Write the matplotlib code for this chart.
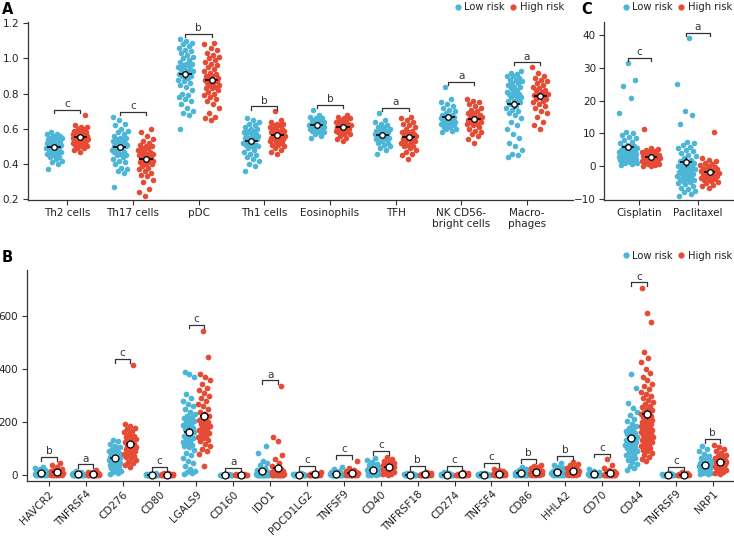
import numpy as np
import matplotlib
matplotlib.use("Agg")
import matplotlib.pyplot as plt
from matplotlib.lines import Line2D

plt.rcParams['font.family'] = ['DejaVu Sans']

BLUE = '#4DB6D6'
RED = '#E64B35'
TXT = '#222222'

# ---------------- Panel A data ----------------
a_categories = ['Th2 cells', 'Th17 cells', 'pDC', 'Th1 cells', 'Eosinophils', 'TFH',
                'NK CD56-\nbright cells', 'Macro-\nphages']
a_letters = ['c', 'c', 'b', 'b', 'b', 'a', 'a', 'a']

th2_low = [0.37,0.40,0.41,0.42,0.43,0.44,0.44,0.45,0.46,0.46,0.47,0.47,0.48,0.48,0.48,0.49,0.49,0.49,0.50,0.50,0.50,0.50,0.51,0.51,0.51,0.51,0.52,0.52,0.52,0.52,0.53,0.53,0.53,0.53,0.54,0.54,0.54,0.55,0.55,0.55,0.56,0.56,0.57,0.57,0.58]
th2_high = [0.47,0.48,0.49,0.49,0.50,0.50,0.51,0.51,0.52,0.52,0.52,0.53,0.53,0.53,0.54,0.54,0.54,0.54,0.55,0.55,0.55,0.55,0.55,0.56,0.56,0.56,0.56,0.57,0.57,0.57,0.57,0.58,0.58,0.58,0.59,0.59,0.60,0.60,0.61,0.61,0.62,0.68]
th17_low = [0.27,0.35,0.36,0.37,0.38,0.40,0.41,0.42,0.43,0.44,0.45,0.45,0.46,0.47,0.47,0.48,0.48,0.49,0.49,0.50,0.50,0.50,0.51,0.51,0.51,0.52,0.52,0.52,0.53,0.53,0.54,0.54,0.55,0.55,0.56,0.57,0.58,0.59,0.60,0.62,0.63,0.65,0.67]
th17_high = [0.22,0.24,0.26,0.30,0.31,0.33,0.34,0.35,0.36,0.37,0.38,0.39,0.40,0.40,0.41,0.41,0.42,0.42,0.43,0.43,0.44,0.44,0.45,0.45,0.45,0.46,0.46,0.47,0.47,0.48,0.48,0.49,0.49,0.50,0.50,0.51,0.52,0.53,0.54,0.56,0.58,0.60]
pdc_low = [0.60,0.68,0.69,0.70,0.72,0.74,0.76,0.77,0.78,0.79,0.80,0.82,0.84,0.85,0.86,0.87,0.88,0.89,0.90,0.90,0.91,0.91,0.92,0.92,0.93,0.93,0.94,0.94,0.95,0.95,0.96,0.96,0.97,0.97,0.98,0.99,1.00,1.01,1.02,1.03,1.04,1.05,1.06,1.07,1.08,1.09,1.10,1.11]
pdc_high = [0.65,0.66,0.67,0.69,0.72,0.74,0.76,0.77,0.78,0.79,0.80,0.81,0.82,0.83,0.83,0.84,0.85,0.85,0.86,0.86,0.87,0.87,0.88,0.88,0.89,0.89,0.90,0.90,0.91,0.92,0.93,0.94,0.95,0.96,0.97,0.98,0.99,1.00,1.01,1.02,1.03,1.05,1.06,1.08,1.09]
th1_low = [0.36,0.39,0.40,0.42,0.43,0.44,0.45,0.46,0.47,0.48,0.49,0.50,0.50,0.51,0.51,0.52,0.52,0.53,0.53,0.54,0.54,0.55,0.55,0.55,0.56,0.56,0.57,0.57,0.58,0.58,0.59,0.59,0.60,0.60,0.61,0.62,0.63,0.64,0.65,0.66]
th1_high = [0.46,0.47,0.48,0.49,0.50,0.51,0.51,0.52,0.52,0.53,0.53,0.54,0.54,0.55,0.55,0.55,0.56,0.56,0.56,0.57,0.57,0.57,0.58,0.58,0.58,0.59,0.59,0.60,0.60,0.61,0.61,0.62,0.62,0.63,0.63,0.64,0.65,0.70]
eos_low = [0.55,0.56,0.57,0.58,0.58,0.59,0.59,0.60,0.60,0.60,0.61,0.61,0.61,0.61,0.62,0.62,0.62,0.62,0.63,0.63,0.63,0.63,0.64,0.64,0.64,0.65,0.65,0.66,0.66,0.67,0.68,0.71]
eos_high = [0.53,0.54,0.55,0.56,0.57,0.57,0.58,0.58,0.59,0.59,0.60,0.60,0.60,0.61,0.61,0.61,0.62,0.62,0.62,0.63,0.63,0.64,0.64,0.65,0.65,0.66,0.66,0.67,0.68]
tfh_low = [0.46,0.48,0.49,0.50,0.51,0.52,0.52,0.53,0.54,0.54,0.55,0.55,0.56,0.56,0.56,0.57,0.57,0.57,0.58,0.58,0.58,0.59,0.59,0.60,0.60,0.61,0.61,0.62,0.63,0.64,0.65,0.69]
tfh_high = [0.43,0.45,0.46,0.47,0.48,0.49,0.50,0.50,0.51,0.52,0.52,0.53,0.53,0.54,0.54,0.55,0.55,0.56,0.56,0.57,0.57,0.58,0.58,0.59,0.60,0.61,0.62,0.63,0.64,0.65,0.66,0.67]
nk_low = [0.58,0.59,0.60,0.60,0.61,0.61,0.62,0.62,0.63,0.63,0.64,0.64,0.64,0.65,0.65,0.65,0.66,0.66,0.66,0.67,0.67,0.68,0.68,0.69,0.70,0.71,0.72,0.73,0.74,0.75,0.77,0.84]
nk_high = [0.52,0.54,0.56,0.57,0.58,0.59,0.60,0.61,0.62,0.63,0.63,0.64,0.64,0.65,0.65,0.66,0.66,0.67,0.67,0.68,0.68,0.69,0.69,0.70,0.71,0.72,0.73,0.74,0.75,0.76,0.77]
macro_low = [0.44,0.45,0.46,0.48,0.50,0.52,0.55,0.57,0.60,0.62,0.64,0.66,0.68,0.69,0.70,0.71,0.72,0.73,0.74,0.75,0.76,0.76,0.77,0.78,0.78,0.79,0.80,0.80,0.81,0.81,0.82,0.83,0.84,0.84,0.85,0.86,0.86,0.87,0.88,0.88,0.89,0.90,0.90,0.91,0.92,0.93]
macro_high = [0.60,0.62,0.64,0.67,0.69,0.70,0.72,0.73,0.74,0.75,0.76,0.77,0.77,0.78,0.79,0.79,0.80,0.80,0.81,0.82,0.82,0.83,0.84,0.85,0.86,0.87,0.88,0.89,0.90,0.92,0.95]

a_low = [th2_low, th17_low, pdc_low, th1_low, eos_low, tfh_low, nk_low, macro_low]
a_high = [th2_high, th17_high, pdc_high, th1_high, eos_high, tfh_high, nk_high, macro_high]
a_yticks = [0.2, 0.4, 0.6, 0.8, 1.0, 1.2]

# ---------------- Panel C data ----------------
c_categories = ['Cisplatin', 'Paclitaxel']
c_letters = ['c', 'a']
cis_low = [0.5,0.7,0.9,1.0,1.2,1.3,1.5,1.6,1.8,1.9,2.0,2.1,2.2,2.3,2.5,2.6,2.7,2.8,3.0,3.1,3.2,3.3,3.4,3.5,3.6,3.8,3.9,4.0,4.1,4.2,4.4,4.5,4.6,4.8,5.0,5.2,5.4,5.6,5.8,6.0,6.2,6.5,7.0,7.5,8.0,8.5,9.0,9.5,10.0,10.4,16.2,20.8,24.3,26.3,31.6]
cis_high = [0.0,0.2,0.4,0.6,0.8,1.0,1.1,1.3,1.5,1.6,1.8,1.9,2.0,2.1,2.2,2.3,2.4,2.5,2.6,2.7,2.8,2.9,3.0,3.1,3.2,3.4,3.6,3.8,4.0,4.2,4.4,4.6,4.9,5.2,5.5,11.2]
pac_low = [-9.0,-8.5,-8.0,-7.5,-7.0,-6.5,-6.0,-5.5,-5.0,-4.8,-4.5,-4.2,-4.0,-3.8,-3.5,-3.2,-3.0,-2.8,-2.5,-2.3,-2.0,-1.8,-1.5,-1.3,-1.0,-0.8,-0.5,-0.3,0.0,0.2,0.5,0.8,1.0,1.3,1.6,2.0,2.5,3.0,3.5,4.0,4.5,5.0,5.5,6.0,6.5,7.0,7.5,13.0,15.6,16.7,25.0,39.2]
pac_high = [-6.5,-6.0,-5.6,-5.2,-4.9,-4.6,-4.3,-4.0,-3.8,-3.6,-3.4,-3.2,-3.0,-2.8,-2.7,-2.5,-2.4,-2.2,-2.1,-2.0,-1.8,-1.6,-1.5,-1.3,-1.1,-0.9,-0.7,-0.5,-0.3,0.0,0.3,0.6,1.0,1.5,2.0,2.5,10.5]
c_low = [cis_low, pac_low]
c_high = [cis_high, pac_high]
c_yticks = [-10, 0, 10, 20, 30, 40]

# ---------------- Panel B data ----------------
b_categories = ['HAVCR2', 'TNFRSF4', 'CD276', 'CD80', 'LGALS9', 'CD160', 'IDO1', 'PDCD1LG2',
                'TNFSF9', 'CD40', 'TNFRSF18', 'CD274', 'TNFSF4', 'CD86', 'HHLA2', 'CD70',
                'CD44', 'TNFRSF9', 'NRP1']
b_letters = ['b', 'a', 'c', 'c', 'c', 'a', 'a', 'c', 'c', 'c', 'b', 'c', 'c', 'b', 'b', 'c',
             'c', 'c', 'b']
havcr2_low = [0,1,1,2,2,2,3,3,3,4,4,4,5,5,6,6,7,7,8,8,9,10,11,12,13,15,17,20,24,28,33]
havcr2_high = [0,1,1,2,2,3,3,4,4,5,5,6,6,7,7,8,8,9,10,11,12,13,15,17,20,24,30,38,48]
tnfrsf4_low = [0,0,0,1,1,1,1,2,2,2,2,3,3,3,4,4,5,5,6,7,8,10,13,17]
tnfrsf4_high = [0,0,1,1,1,2,2,2,3,3,3,4,4,4,5,5,6,6,7,8,9,11,14,19]
cd276_low = [5,10,14,18,22,26,30,34,38,41,44,47,50,52,54,56,58,60,62,64,66,68,70,72,75,78,80,84,88,92,96,100,106,112,120,128,134]
cd276_high = [30,38,45,52,58,64,70,74,78,82,86,90,93,96,99,102,105,108,111,114,117,120,124,128,132,136,140,145,150,156,162,168,174,180,186,193,415]
cd80_low = [0,0,0,0,1,1,1,1,1,2,2,2,2,3,3,4,4,5,6,8]
cd80_high = [0,0,0,1,1,1,1,2,2,2,3,3,3,4,4,5,6,7,8,10]
lgals9_low = [5,8,12,18,25,35,45,55,65,75,85,95,105,110,115,120,125,130,135,140,145,150,155,160,165,170,175,180,185,190,195,200,205,210,215,220,225,230,240,250,260,270,280,290,305,370,380,388]
lgals9_high = [35,80,90,100,110,120,128,135,140,145,150,155,160,165,170,175,180,185,190,195,200,205,210,215,220,225,230,240,250,260,270,280,290,300,310,320,330,345,360,370,380,445,545]
cd160_low = [0,0,0,0,0,0,1,1,1,1,1,2,2,3,4]
cd160_high = [0,0,0,0,0,1,1,1,1,2,2,2,3,4,5,7]
ido1_low = [0,0,0,0,1,1,1,1,2,2,2,3,3,3,4,4,5,5,6,6,7,8,9,10,11,12,14,16,18,22,28,40,48,55,85,110]
ido1_high = [0,0,0,1,1,1,2,2,2,3,3,4,4,5,5,6,6,7,8,9,10,11,12,13,14,16,18,20,24,28,35,45,60,75,130,145,335]
pdcd1lg2_low = [0,0,0,0,1,1,1,1,2,2,2,3,3,4,4,5,7,10]
pdcd1lg2_high = [0,0,0,1,1,1,2,2,2,3,3,4,4,5,6,7,9,14]
tnfsf9_low = [0,0,0,0,1,1,1,1,2,2,2,3,3,3,4,4,5,6,7,8,10,13,18,25,33]
tnfsf9_high = [0,0,1,1,2,2,3,3,3,4,4,5,5,6,6,7,8,9,10,11,13,15,18,22,27,55]
cd40_low = [0,1,2,4,5,7,9,10,12,13,14,15,16,17,18,19,20,21,22,23,24,25,27,29,31,34,38,43,50,58,65]
cd40_high = [2,4,7,9,12,14,16,18,20,22,23,25,26,27,28,29,30,31,32,34,35,37,39,41,44,47,51,56,62,70]
tnfrsf18_low = [0,0,0,1,1,1,1,2,2,2,3,3,3,4,4,5,6,8,10]
tnfrsf18_high = [0,0,0,1,1,1,2,2,2,3,3,3,4,4,5,6,7,9,12]
cd274_low = [0,0,0,1,1,1,1,2,2,2,3,3,3,4,4,5,6,8,12]
cd274_high = [0,0,0,1,1,1,2,2,2,3,3,3,4,4,5,6,7,10,14]
tnfsf4_low = [0,0,0,0,1,1,1,1,1,2,2,2,3,3,4,5,6,8,10]
tnfsf4_high = [0,0,1,1,1,2,2,3,3,4,4,5,5,6,7,8,9,10,12,14,17,21,25]
cd86_low = [0,0,1,1,2,2,2,3,3,4,4,5,5,6,6,7,8,9,10,11,12,14,16,20,25,32]
cd86_high = [0,1,2,3,4,5,6,7,8,9,9,10,11,12,13,14,15,16,17,19,21,23,26,30,35,40]
hhla2_low = [0,0,1,1,2,2,3,3,4,4,5,5,6,7,8,9,10,11,12,13,15,17,19,22,26,32,40,45]
hhla2_high = [0,1,2,3,4,5,6,7,8,10,11,12,13,14,15,16,17,18,20,22,24,26,29,33,38,44,50]
cd70_low = [0,0,0,0,0,1,1,1,1,1,2,2,2,3,3,4,5,6,8,12,18,24]
cd70_high = [0,0,0,0,1,1,1,2,2,2,3,3,4,4,5,6,7,8,10,13,17,22,28,40,60]
cd44_low = [20,28,36,44,52,58,64,70,76,82,87,92,97,102,106,110,114,118,122,126,130,134,138,142,146,150,154,158,163,168,174,180,187,195,204,214,226,240,255,272,329,381]
cd44_high = [55,62,70,77,84,90,96,102,107,112,117,122,126,130,134,138,142,146,150,153,156,159,162,165,168,171,174,177,180,183,186,189,192,195,198,201,204,207,210,214,218,222,226,230,235,240,245,250,256,262,268,275,282,290,298,306,315,325,335,345,358,372,385,400,425,440,466,576,612,704]
tnfrsf9_low = [0,0,0,0,0,1,1,1,1,2,2,2,3,3,4,5,6,9]
tnfrsf9_high = [0,0,0,0,1,1,1,2,2,2,3,3,4,5,6,8,11]
nrp1_low = [4,6,8,10,12,14,16,18,20,22,24,26,28,30,31,33,35,37,39,41,43,46,49,52,56,60,66,72,80,90,100,112]
nrp1_high = [5,9,13,17,21,24,27,30,33,35,37,39,41,43,45,47,49,51,53,55,58,61,64,68,72,77,83,90,98,107,115]

b_low = [havcr2_low, tnfrsf4_low, cd276_low, cd80_low, lgals9_low, cd160_low, ido1_low,
         pdcd1lg2_low, tnfsf9_low, cd40_low, tnfrsf18_low, cd274_low, tnfsf4_low, cd86_low,
         hhla2_low, cd70_low, cd44_low, tnfrsf9_low, nrp1_low]
b_high = [havcr2_high, tnfrsf4_high, cd276_high, cd80_high, lgals9_high, cd160_high, ido1_high,
          pdcd1lg2_high, tnfsf9_high, cd40_high, tnfrsf18_high, cd274_high, tnfsf4_high, cd86_high,
          hhla2_high, cd70_high, cd44_high, tnfrsf9_high, nrp1_high]
b_yticks = [0, 200, 400, 600]

legend_labels = ['Low risk', 'High risk']


def jitter(n, w, phase):
    return (((np.arange(n) * 0.6180339887 + phase) % 1.0) - 0.5) * 2 * w


def draw_panel(ax, lows, highs, letters, off, jw, hw, s, ylim, mean_ms, fs_letter):
    yr = ylim[1] - ylim[0]
    for i, (lo, hi) in enumerate(zip(lows, highs)):
        for vals, sign, col, ph in [(lo, -1, BLUE, 0.13), (hi, 1, RED, 0.47)]:
            v = np.asarray(vals, float)
            n = len(v)
            xc = i + sign * off
            ax.scatter(xc + jitter(n, jw, ph), v, s=s, color=col, linewidths=0, zorder=2)
            m = v.mean()
            se = v.std(ddof=1) / np.sqrt(n)
            ax.plot([xc - hw, xc + hw], [m, m], color='black', lw=1.2, zorder=3,
                    solid_capstyle='butt')
            ax.plot([xc, xc], [m - se, m + se], color='black', lw=1.0, zorder=3)
            ax.plot([xc], [m], 'o', ms=mean_ms, mfc='white', mec='black', mew=0.9, zorder=4)
        top = max(max(lo), max(hi)) + 0.028 * yr
        tick = 0.018 * yr
        ax.plot([i - off, i - off, i + off, i + off], [top - tick, top, top, top - tick],
                color='#333333', lw=0.9, zorder=3)
        ax.text(i, top + 0.004 * yr, letters[i], ha='center', va='bottom',
                fontsize=fs_letter, color='#333333')


def style(ax):
    for sp in ['top', 'right']:
        ax.spines[sp].set_visible(False)
    for sp in ['left', 'bottom']:
        ax.spines[sp].set_color('#333333')
        ax.spines[sp].set_linewidth(0.9)
    ax.tick_params(axis='both', length=3.5, width=0.8, color='#333333',
                   labelcolor=TXT, labelsize=7.5, pad=2.5)


W, H = 734, 537
fig = plt.figure(figsize=(W / 100, H / 100), dpi=100)


def ax_px(l, t, r, b):
    return fig.add_axes([l / W, 1 - b / H, (r - l) / W, (b - t) / H])


# Panel A
axA = ax_px(27.7, 22, 573, 199.5)
ylimA = (0.199, 1.207)
draw_panel(axA, a_low, a_high, a_letters, off=0.2, jw=0.12, hw=0.1, s=16, ylim=ylimA,
           mean_ms=4, fs_letter=7.5)
axA.set_xlim(-0.6, 7.7)
axA.set_ylim(*ylimA)
axA.set_yticks(a_yticks)
axA.set_yticklabels([f'{t:.1f}' for t in a_yticks])
axA.set_xticks(range(len(a_categories)))
axA.set_xticklabels(a_categories, linespacing=1.1)
style(axA)

# Panel C
axC = ax_px(604.3, 21.7, 733, 200)
ylimC = (-10.3, 44.05)
draw_panel(axC, c_low, c_high, c_letters, off=0.2, jw=0.16, hw=0.1, s=16, ylim=ylimC,
           mean_ms=4, fs_letter=7.5)
axC.set_xlim(-0.6, 1.6)
axC.set_ylim(*ylimC)
axC.set_yticks(c_yticks)
axC.set_xticks(range(len(c_categories)))
axC.set_xticklabels(c_categories)
style(axC)

# Panel B
axB = ax_px(26.7, 270, 733, 480.7)
ylimB = (-20, 773)
draw_panel(axB, b_low, b_high, b_letters, off=0.21, jw=0.17, hw=0.12, s=17, ylim=ylimB,
           mean_ms=5, fs_letter=7.5)
axB.set_xlim(-0.6, 18.55)
axB.set_ylim(*ylimB)
axB.set_yticks(b_yticks)
axB.set_xticks(range(len(b_categories)))
axB.set_xticklabels(b_categories, rotation=45, ha='right', rotation_mode='anchor')
style(axB)

# Panel labels
fig.text(2 / W, 1 - 9 / H, 'A', fontsize=10.5, fontweight='bold', va='center', ha='left')
fig.text(2 / W, 1 - 258 / H, 'B', fontsize=10.5, fontweight='bold', va='center', ha='left')
fig.text(581 / W, 1 - 9 / H, 'C', fontsize=10.5, fontweight='bold', va='center', ha='left')

# Legends
handles = [Line2D([], [], marker='o', ls='', ms=4.5, color=BLUE, mew=0),
           Line2D([], [], marker='o', ls='', ms=4.5, color=RED, mew=0)]
for (xr, yc) in [(564, 7), (732, 7), (732, 256)]:
    fig.legend(handles, legend_labels, loc='center right', bbox_to_anchor=(xr / W, 1 - yc / H),
               ncol=2, frameon=False, fontsize=7.2, handlelength=0.7, handletextpad=0.3,
               columnspacing=0.5, borderpad=0, borderaxespad=0, labelcolor=TXT)

fig.savefig('out.png', dpi=100)
